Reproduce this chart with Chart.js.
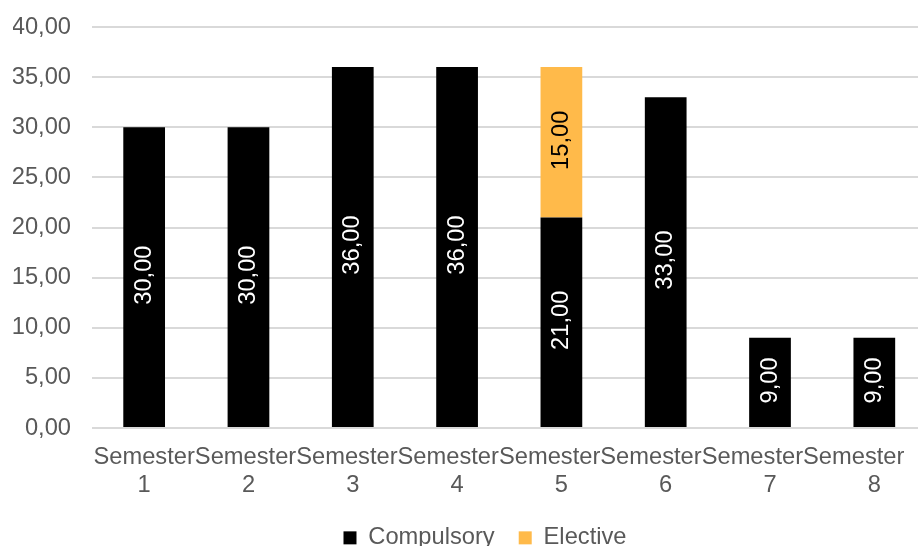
<!DOCTYPE html>
<html>
<head>
<meta charset="utf-8">
<script src="https://cdn.jsdelivr.net/npm/chart.js@4"></script>
<style>
  html, body { margin: 0; padding: 0; background: #fff; overflow: hidden; }
  #wrap { width: 931px; height: 546px; }
</style>
</head>
<body>
<div id="wrap"><canvas id="creditsChart"></canvas></div>
<script>
// Chart data
const semesters = [
    ['Semester', '1'], ['Semester', '2'], ['Semester', '3'], ['Semester', '4'],
    ['Semester', '5'], ['Semester', '6'], ['Semester', '7'], ['Semester', '8']
];
const compulsory = [30, 30, 36, 36, 21, 33, 9, 9];
const elective = [null, null, null, null, 15, null, null, null];
const yTicks = [0, 5, 10, 15, 20, 25, 30, 35, 40];

const FONT_SIZE = 23.7;
const FONT = FONT_SIZE + 'px "Liberation Sans", Arial, sans-serif';
const TEXT_GREY = '#595959';

function fmt(v) {
    return Number(v).toFixed(2).replace('.', ',');
}

/**
 * Value labels inside the bars + packed category labels
 */
const barLabels = {
    id: 'barLabels',
    afterInit: function(chart) {
        // fix the legend height and nudge it a bit to the right
        const legend = chart.legend;
        const origFit = legend.fit;
        const origDraw = legend.draw;
        legend.fit = function() {
            origFit.call(this);
            this.height = 44;
        };
        legend.draw = function() {
            this.ctx.save();
            this.ctx.translate(13, 0);
            origDraw.call(this);
            this.ctx.restore();
        };
    },
    afterDatasetsDraw: function(chart) {
        const ctx = chart.ctx;
        chart.data.datasets.forEach(function(ds, i) {
            const meta = chart.getDatasetMeta(i);
            meta.data.forEach(function(bar, j) {
                const v = ds.data[j];
                if (v === null || v === undefined) return;
                ctx.save();
                ctx.translate(bar.x, (bar.y + bar.base) / 2 - 2);
                ctx.rotate(-Math.PI / 2);
                ctx.font = FONT;
                ctx.fillStyle = ds.labelColor;
                ctx.textAlign = 'center';
                ctx.textBaseline = 'middle';
                ctx.fillText(fmt(v), 0, 0);
                ctx.restore();
            });
        });
    },
    afterDraw: function(chart) {
        // category labels: words packed side by side like the original
        const ctx = chart.ctx;
        const xs = chart.scales.x;
        const x0 = xs.getPixelForTick(0);
        ctx.save();
        ctx.font = FONT;
        ctx.fillStyle = TEXT_GREY;
        ctx.textAlign = 'center';
        ctx.textBaseline = 'middle';
        chart.data.labels.forEach(function(lines, i) {
            const x = xs.getPixelForTick(i);
            lines.forEach(function(line, k) {
                let cx = x;
                if (k === 0) {
                    const w = ctx.measureText(line).width;
                    cx = Math.min(x, x0 + i * w);
                }
                ctx.fillText(line, cx, xs.top + 29 + k * 28);
            });
        });
        ctx.restore();
    }
};

Chart.defaults.font.family = '"Liberation Sans", Arial, sans-serif';
Chart.defaults.font.size = FONT_SIZE;
Chart.defaults.color = TEXT_GREY;

new Chart(document.getElementById('creditsChart'), {
    type: 'bar',
    data: {
        labels: semesters,
        datasets: [{
            label: 'Compulsory',
            data: compulsory,
            backgroundColor: '#000000',
            labelColor: '#ffffff'
        }, {
            label: 'Elective',
            data: elective,
            backgroundColor: '#FFBA4A',
            labelColor: '#000000'
        }]
    },
    options: {
        responsive: true,
        maintainAspectRatio: false,
        animation: false,
        layout: {
            padding: { left: 13, top: 27, right: 0, bottom: 0 }
        },
        datasets: {
            bar: {
                categoryPercentage: 1,
                barPercentage: 0.4
            }
        },
        plugins: {
            legend: {
                position: 'bottom',
                labels: {
                    boxWidth: 13,
                    boxHeight: 13,
                    padding: 24,
                    color: TEXT_GREY
                }
            },
            tooltip: { enabled: false }
        },
        scales: {
            x: {
                stacked: true,
                grid: { display: false },
                border: { display: false },
                ticks: { color: 'rgba(0,0,0,0)', padding: 6, maxRotation: 0, autoSkip: false },
                afterFit: function(axis) { axis.height = 74; }
            },
            y: {
                stacked: true,
                min: yTicks[0],
                max: yTicks[yTicks.length - 1],
                afterBuildTicks: function(axis) {
                    axis.ticks = yTicks.map(function(v) { return { value: v }; });
                },
                afterFit: function(axis) {
                    axis.width = 79;
                    axis.paddingTop = 0;
                    axis.paddingBottom = 0;
                },
                grid: { color: '#d9d9d9', lineWidth: 2, drawTicks: false },
                border: { display: false },
                ticks: {
                    padding: 21,
                    callback: function(v) { return fmt(v); }
                }
            }
        }
    },
    plugins: [barLabels]
});
</script>
</body>
</html>
